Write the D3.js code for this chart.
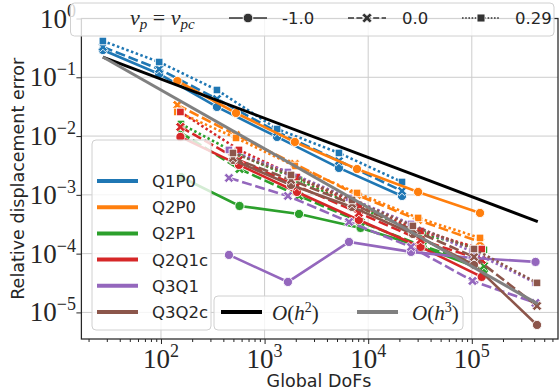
<!DOCTYPE html>
<html>
<head>
<meta charset="utf-8">
<script src="https://cdn.jsdelivr.net/npm/d3@7"></script>
<style>
  body { margin: 0; background: #fff; }
  svg { display: block; }
</style>
</head>
<body>
<svg id="chart" width="560" height="391"></svg>
<script>
// ---- data -------------------------------------------------------------
const elements = ["Q1P0", "Q2P0", "Q2P1", "Q2Q1c", "Q3Q1", "Q3Q2c"];
const poissonRatios = ["-1.0", "0.0", "0.29"];

// global degrees of freedom per refinement level
const dofsQ1P0  = [27.5, 96, 347, 1320, 5220, 21200];
const dofsQ2P0  = [144, 530, 1960, 7800, 30300, 120000];
const dofsQ2P1  = [156, 573, 2150, 8440, 33400, 131000];
const dofsQ2Q1c = [154, 566, 2050, 8130, 32000, 124600];
const dofsQ3Q1  = [453, 1680, 6530, 25900, 101600, 412000];
const dofsQ3Q2c = [495, 1800, 6980, 27000, 105000, 426000];

// relative displacement error; rows follow poissonRatios
const errQ1P0 = [
  [0.291, 0.114, 0.0313, 0.00966, 0.00287, 0.000958],
  [0.328, 0.138, 0.0428, 0.01175, 0.00377, 0.001165],
  [0.414, 0.182, 0.0608, 0.0132, 0.00516, 0.001656]
];
const errQ2P0 = [
  [0.0865, 0.0247, 0.00794, 0.00275, 0.00112, 0.000492],
  [0.0338, 0.01044, 0.00336, 0.000995, 0.000374, 0.000158],
  [0.0257, 0.00929, 0.00310, 0.001077, 0.000405, 0.000185]
];
const errQ2P1 = [
  [0.00201, 0.000647, 0.000473, 0.000274, 0.000130, 5.28e-5],
  [0.0113, 0.00275, 0.000958, 0.000346, 0.000135, 6.18e-5],
  [0.01606, 0.00477, 0.00179, 0.000598, 0.000216, 0.000116]
];
const errQ2Q1c = [
  [0.00966, 0.00323, 0.00112, 0.000374, 0.000130, 4.02e-5],
  [0.01428, 0.00392, 0.001417, 0.000492, 0.000171, 7.82e-5],
  [0.0257, 0.00581, 0.00201, 0.000673, 0.000243, 0.000120]
];
const errQ3Q1 = [
  [9.51e-5, 3.30e-5, 0.000158, 0.000107, 8.45e-5, 7.23e-5],
  [0.00194, 0.000958, 0.000346, 0.000130, 3.43e-5, 1.45e-5],
  [0.00581, 0.00245, 0.000885, 0.000320, 0.000107, 3.18e-5]
];
const errQ3Q2c = [
  [0.00392, 0.001473, 0.000623, 0.000216, 6.43e-5, 6.12e-6],
  [0.00424, 0.00179, 0.000700, 0.000253, 8.79e-5, 1.29e-5],
  [0.00516, 0.00218, 0.000818, 0.000296, 0.000120, 3.18e-5]
];

// convergence-rate guide lines (two end points each)
const refDofs = [27.5, 433000];
const refH2 = [0.221, 3.5e-4];
const refH3 = [0.221, 1.40e-5];
const refLabels = ["h", "h"];
const refPowers = ["2", "3"];

const xTicks = [1e2, 1e3, 1e4, 1e5];
const xTickExp = ["2", "3", "4", "5"];
const yTicks = [1e-5, 1e-4, 1e-3, 1e-2, 1e-1, 1e0];
const yTickExp = ["\u22125", "\u22124", "\u22123", "\u22122", "\u22121", "0"];

// ---- setup ------------------------------------------------------------
const palette = ["#1f77b4", "#ff7f0e", "#2ca02c", "#d62728", "#9467bd", "#8c564b"];
const dashes = [null, "10,3.75", "2.5,2.5"];
const serif = "'Liberation Serif','DejaVu Serif',serif";
const sans = "'DejaVu Sans',sans-serif";

const m = { l: 81.4, r: 558, t: 18.5, b: 339 };
const x = d3.scaleLog().domain([17.06, 6.79e5]).range([m.l, m.r]);
const y = d3.scaleLog().domain([3.53e-6, 1]).range([m.b, m.t]);

const svg = d3.select("#chart");
svg.append("rect").attr("width", 560).attr("height", 391).attr("fill", "#fff");
svg.append("defs").append("clipPath").attr("id", "plotClip")
  .append("rect").attr("x", m.l).attr("y", m.t)
  .attr("width", m.r - m.l).attr("height", m.b - m.t);

// grid
const grid = svg.append("g");
grid.selectAll("line.gx").data(xTicks).join("line")
  .attr("x1", d => x(d)).attr("x2", d => x(d)).attr("y1", m.t).attr("y2", m.b)
  .attr("stroke", "#cccccc").attr("stroke-width", 1);
grid.selectAll("line.gy").data(yTicks).join("line")
  .attr("y1", d => y(d)).attr("y2", d => y(d)).attr("x1", m.l).attr("x2", m.r)
  .attr("stroke", "#cccccc").attr("stroke-width", 1);

// markers
function xMarkerPath(a, t) {
  const pts = [[-t,-a],[t,-a],[t,-t],[a,-t],[a,t],[t,t],[t,a],[-t,a],[-t,t],[-a,t],[-a,-t],[-t,-t]];
  const r = Math.SQRT1_2;
  return "M" + pts.map(([px, py]) => [(px - py) * r, (px + py) * r].map(v => v.toFixed(2)).join(",")).join("L") + "Z";
}
function drawMarker(g, style, cx, cy, color, scale = 1) {
  if (style === 0) {
    g.append("circle").attr("cx", cx).attr("cy", cy).attr("r", 4.6 * scale)
      .attr("fill", color).attr("stroke", "#fff").attr("stroke-width", 0.9);
  } else if (style === 1) {
    g.append("path").attr("d", xMarkerPath(5.2 * scale, 1.6 * scale))
      .attr("transform", `translate(${cx},${cy})`)
      .attr("fill", color).attr("stroke", "#fff").attr("stroke-width", 0.9);
  } else {
    const s = 7.6 * scale;
    g.append("rect").attr("x", cx - s / 2).attr("y", cy - s / 2).attr("width", s).attr("height", s)
      .attr("fill", color).attr("stroke", "#fff").attr("stroke-width", 0.9);
  }
}

// data series
const dofsAll = [dofsQ1P0, dofsQ2P0, dofsQ2P1, dofsQ2Q1c, dofsQ3Q1, dofsQ3Q2c];
const errAll = [errQ1P0, errQ2P0, errQ2P1, errQ2Q1c, errQ3Q1, errQ3Q2c];
const line = d3.line().x(d => x(d[0])).y(d => y(d[1]));
const gData = svg.append("g").attr("clip-path", "url(#plotClip)");
elements.forEach((el, i) => {
  poissonRatios.forEach((nu, j) => {
    const pts = dofsAll[i].map((d, k) => [d, errAll[i][j][k]]);
    gData.append("path").attr("d", line(pts)).attr("fill", "none")
      .attr("stroke", palette[i]).attr("stroke-width", 2.6)
      .attr("stroke-dasharray", dashes[j]);
    pts.forEach(p => drawMarker(gData, j, x(p[0]), y(p[1]), palette[i]));
  });
});

// guide lines
[[refH2, "#000000"], [refH3, "#808080"]].forEach(([vals, c]) => {
  gData.append("path").attr("d", line(refDofs.map((d, k) => [d, vals[k]])))
    .attr("fill", "none").attr("stroke", c).attr("stroke-width", 3);
});

// spines
svg.append("rect").attr("x", m.l).attr("y", m.t).attr("width", m.r - m.l).attr("height", m.b - m.t)
  .attr("fill", "none").attr("stroke", "#262626").attr("stroke-width", 1.25);

// axes ticks
const minorX = [];
for (let e = 1; e <= 5; e++) for (let k = 2; k <= 9; k++) {
  const v = k * Math.pow(10, e);
  if (v > x.domain()[0] && v < x.domain()[1]) minorX.push(v);
}
const axB = svg.append("g").attr("transform", `translate(0,${m.b})`);
axB.call(d3.axisBottom(x).tickValues(xTicks).tickSize(5).tickFormat(""));
axB.append("g").call(d3.axisBottom(x).tickValues(minorX).tickSize(3).tickFormat(""));
axB.selectAll(".domain").remove();
axB.selectAll("line").attr("stroke", "#262626").attr("stroke-width", 1);
const axL = svg.append("g").attr("transform", `translate(${m.l},0)`);
axL.call(d3.axisLeft(y).tickValues(yTicks).tickSize(5).tickFormat(""));
axL.selectAll(".domain").remove();
axL.selectAll("line").attr("stroke", "#262626").attr("stroke-width", 1);

// tick labels (powers of ten)
xTicks.forEach((v, i) => {
  const t = svg.append("text").attr("x", x(v)).attr("y", 368)
    .attr("text-anchor", "middle").attr("font-family", serif).attr("font-size", 27).attr("fill", "#262626");
  t.append("tspan").text("10");
  t.append("tspan").attr("dy", -11).attr("font-size", 18).text(xTickExp[i]);
});
yTicks.forEach((v, i) => {
  const t = svg.append("text").attr("x", 76).attr("y", y(v) + 9)
    .attr("text-anchor", "end").attr("font-family", serif).attr("font-size", 27).attr("fill", "#262626");
  t.append("tspan").text("10");
  t.append("tspan").attr("dy", -11).attr("font-size", 18).text(yTickExp[i]);
});

// axis titles
svg.append("text").attr("x", 319).attr("y", 387).attr("text-anchor", "middle")
  .attr("font-family", sans).attr("font-size", 17.5).attr("fill", "#262626").text("Global DoFs");
svg.append("text").attr("transform", `translate(24,${(m.t + m.b) / 2}) rotate(-90)`)
  .attr("text-anchor", "middle").attr("font-family", sans).attr("font-size", 17.5)
  .attr("fill", "#262626").text("Relative displacement error");

// ---- legends ------------------------------------------------------------
function legendBox(x0, y0, x1, y1) {
  svg.append("rect").attr("x", x0).attr("y", y0).attr("width", x1 - x0).attr("height", y1 - y0)
    .attr("rx", 4).attr("fill", "#fff").attr("fill-opacity", 0.8)
    .attr("stroke", "#d0d0d0").attr("stroke-width", 1);
}

// Poisson ratio legend (top)
legendBox(70.5, 3, 554, 36);
const nuText = svg.append("text").attr("x", 130).attr("y", 25)
  .attr("font-family", serif).attr("font-style", "italic").attr("font-size", 22).attr("fill", "#262626");
nuText.append("tspan").text("\u03bd");
nuText.append("tspan").attr("dy", 4).attr("font-size", 15).text("p");
nuText.append("tspan").attr("dy", -4).attr("font-style", "normal").text(" = ");
nuText.append("tspan").text("\u03bd");
nuText.append("tspan").attr("dy", 4).attr("font-size", 15).text("pc");
const styleX = [229, 348, 462];
const styleTextX = [282, 402, 515];
poissonRatios.forEach((nu, j) => {
  svg.append("line").attr("x1", styleX[j]).attr("x2", styleX[j] + 38).attr("y1", 18).attr("y2", 18)
    .attr("stroke", "#333").attr("stroke-width", 1.6).attr("stroke-dasharray", j === 1 ? "6,2.4" : j === 2 ? "1.6,1.6" : null);
  drawMarker(svg, j, styleX[j] + 19, 18, "#333", 1.05);
  svg.append("text").attr("x", styleTextX[j]).attr("y", 24).attr("font-family", sans)
    .attr("font-size", 16.5).attr("fill", "#262626").text(nu);
});

// element legend (left)
legendBox(92, 140, 211, 330);
elements.forEach((el, i) => {
  const cy = 181 + i * 26.2;
  svg.append("line").attr("x1", 97).attr("x2", 138).attr("y1", cy).attr("y2", cy)
    .attr("stroke", palette[i]).attr("stroke-width", 4);
  svg.append("text").attr("x", 152).attr("y", cy + 6).attr("font-family", sans)
    .attr("font-size", 16.5).attr("fill", "#262626").text(el);
});

// guide-line legend (bottom)
legendBox(214, 296, 463, 330);
[["#000000", 221, 272], ["#808080", 357, 412]].forEach(([c, lx, tx], i) => {
  svg.append("line").attr("x1", lx).attr("x2", lx + 41).attr("y1", 312).attr("y2", 312)
    .attr("stroke", c).attr("stroke-width", 4);
  const t = svg.append("text").attr("x", tx).attr("y", 320).attr("font-family", serif)
    .attr("font-size", 21).attr("fill", "#262626");
  t.append("tspan").attr("font-style", "italic").text("O");
  t.append("tspan").text("(");
  t.append("tspan").attr("font-style", "italic").text(refLabels[i]);
  t.append("tspan").attr("dy", -8).attr("font-size", 14).text(refPowers[i]);
  t.append("tspan").attr("dy", 8).text(")");
});
</script>
</body>
</html>
